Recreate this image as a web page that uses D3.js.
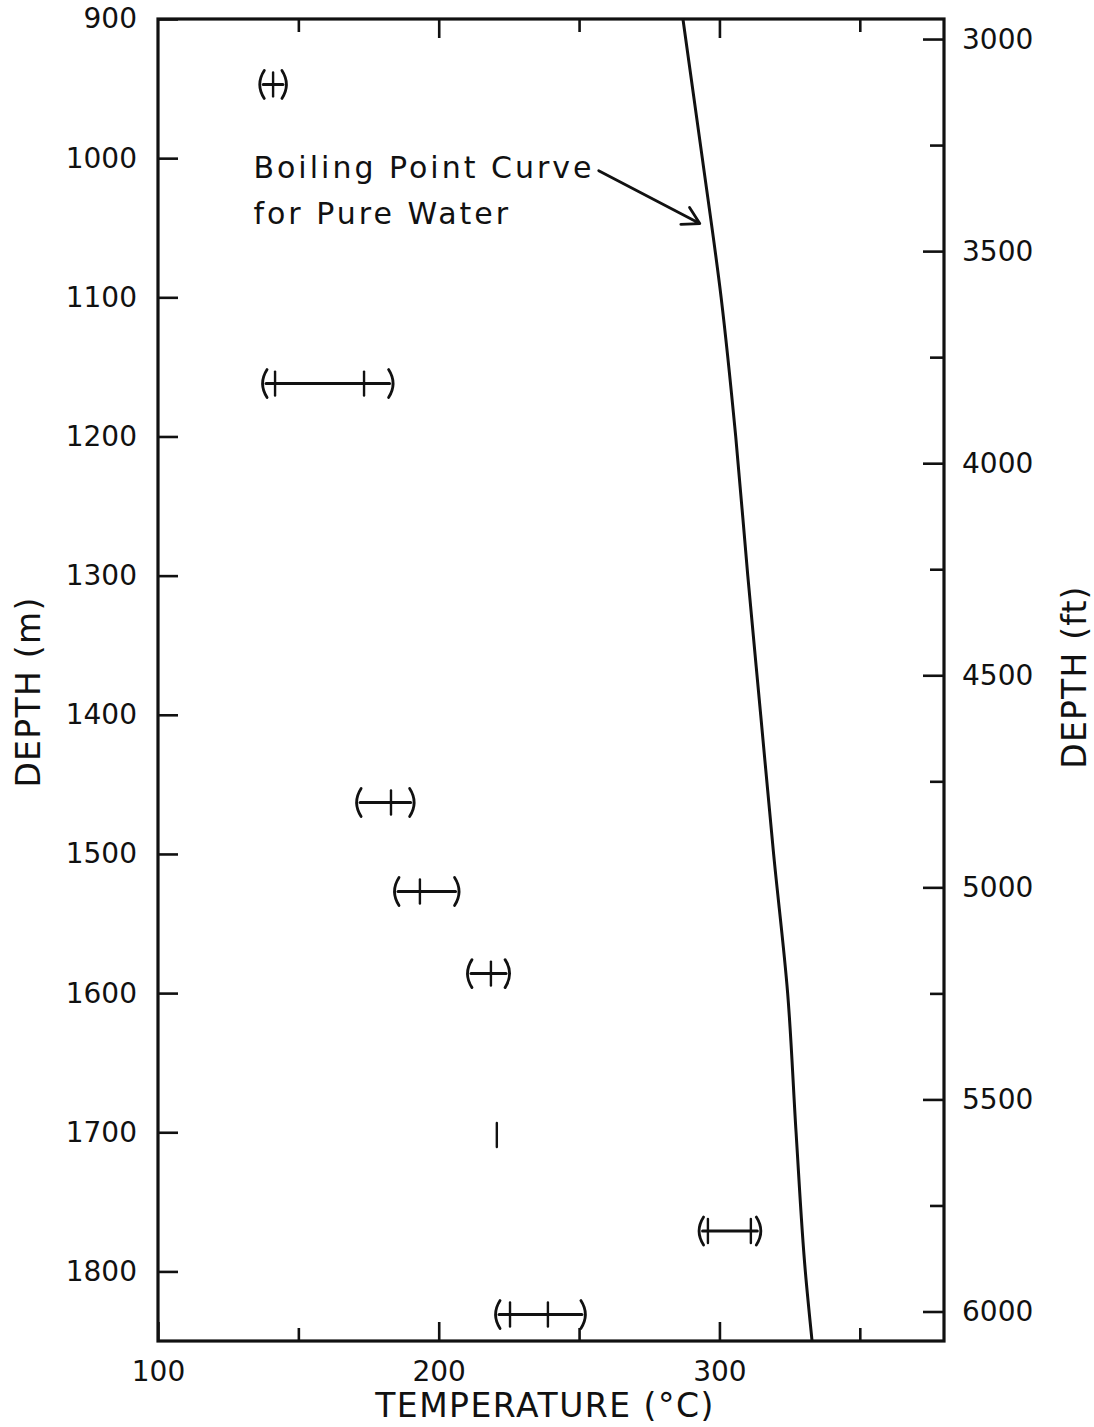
<!DOCTYPE html>
<html>
<head>
<meta charset="utf-8">
<script src="https://cdn.jsdelivr.net/npm/d3@7"></script>
<style>
  html, body { margin: 0; padding: 0; background: #fff; }
  svg { display: block; }
  text { font-family: "DejaVu Sans", sans-serif; fill: #111; }
</style>
</head>
<body>
<svg id="chart" width="1094" height="1427"></svg>
<script>
// Fluid-inclusion temperature ranges by depth
const sampleDepth = [947, 1162, 1463, 1527, 1586, 1702, 1771, 1831];          // m
const rangeLow    = [137.5, 138.5, 172, 185.5, 211.5, null, 294, 221.5];       // °C, "(" bracket
const rangeHigh   = [144.5, 182.5, 190, 206, 224, null, 313.5, 251];           // °C, ")" bracket
const rangeMarks  = [[141], [141.7, 173.4], [183], [193.3], [218.6], [220.7], [295.9, 311.2], [225.4, 238.9]];

// Boiling point curve for pure water
const bpDepth = [900, 1000, 1100, 1200, 1300, 1400, 1500, 1600, 1700, 1800, 1850];
const bpTemp  = [287.0, 293.9, 300.6, 305.8, 310.1, 314.7, 319.3, 324.3, 327.3, 330.6, 333.0];

// Axis ticks
const tempMajor  = [100, 200, 300];
const tempMinor  = [150, 250, 350];
const depthTicks = [900, 1000, 1100, 1200, 1300, 1400, 1500, 1600, 1700, 1800];
const feetMajor  = [3000, 3500, 4000, 4500, 5000, 5500, 6000];
const feetMinor  = [3250, 3750, 4250, 4750, 5250, 5750];

const FT = 0.3048;

const svg = d3.select("#chart");
const frame = { left: 158, right: 944, top: 19, bottom: 1341 };

const x = d3.scaleLinear().domain([100, 380]).range([frame.left, frame.right]);
const y = d3.scaleLinear().domain([900, 1850]).range([frame.top, frame.bottom]);
const yFt = d3.scaleLinear().domain([900 / FT, 1850 / FT]).range([frame.top, frame.bottom]);

const ink = "#111";

// Bottom axis (inward ticks)
const gB = svg.append("g").attr("transform", `translate(0,${frame.bottom})`);
gB.call(d3.axisBottom(x).tickValues(tempMajor).tickSize(-19).tickPadding(20).tickFormat(d3.format("d")));
gB.append("g").call(d3.axisBottom(x).tickValues(tempMinor).tickSize(-13).tickFormat(""));

// Top axis (inward ticks, no labels)
const gT = svg.append("g").attr("transform", `translate(0,${frame.top})`);
gT.append("g").call(d3.axisTop(x).tickValues([200, 300]).tickSize(-19).tickFormat(""));
gT.append("g").call(d3.axisTop(x).tickValues(tempMinor).tickSize(-13).tickFormat(""));

// Left axis (metres)
const gL = svg.append("g").attr("transform", `translate(${frame.left},0)`);
gL.call(d3.axisLeft(y).tickValues(depthTicks).tickSize(-20).tickPadding(21).tickFormat(d3.format("d")));

// Right axis (feet)
const gR = svg.append("g").attr("transform", `translate(${frame.right},0)`);
gR.call(d3.axisRight(yFt).tickValues(feetMajor).tickSize(-21).tickPadding(18).tickFormat(d3.format("d")));
gR.append("g").call(d3.axisRight(yFt).tickValues(feetMinor).tickSize(-14).tickFormat(""));

svg.selectAll(".domain").remove();
svg.selectAll(".tick line").attr("stroke", ink).attr("stroke-width", 2.6);
svg.selectAll(".tick text").style("font-size", "28px").attr("fill", ink);
gB.selectAll(".tick text").attr("dy", "0.71em");

// Frame
svg.append("rect")
  .attr("x", frame.left).attr("y", frame.top)
  .attr("width", frame.right - frame.left).attr("height", frame.bottom - frame.top)
  .attr("fill", "none").attr("stroke", ink).attr("stroke-width", 3.2);

// Axis titles
svg.append("text")
  .attr("transform", `translate(40,${(frame.top + frame.bottom) / 2 + 12}) rotate(-90)`)
  .attr("text-anchor", "middle")
  .style("font-size", "33px").style("letter-spacing", "1.3px")
  .text("DEPTH (m)");

svg.append("text")
  .attr("transform", `translate(1086,${(frame.top + frame.bottom) / 2 - 3}) rotate(-90)`)
  .attr("text-anchor", "middle")
  .style("font-size", "33px").style("letter-spacing", "1.2px")
  .text("DEPTH (ft)");

svg.append("text")
  .attr("x", 545).attr("y", 1417)
  .attr("text-anchor", "middle")
  .style("font-size", "33px").style("letter-spacing", "1.5px")
  .text("TEMPERATURE (°C)");

// Boiling point curve
const bp = bpDepth.map((d, i) => ({ d, t: bpTemp[i] }));
svg.append("path")
  .datum(bp)
  .attr("fill", "none").attr("stroke", ink).attr("stroke-width", 3)
  .attr("stroke-linejoin", "round")
  .attr("d", d3.line().curve(d3.curveMonotoneY).x(p => x(p.t)).y(p => y(p.d)));

// Annotation with arrow
const note = svg.append("text")
  .attr("x", x(134)).attr("y", y(1014))
  .style("font-size", "30px").style("letter-spacing", "3px");
note.append("tspan").attr("x", x(134)).text("Boiling Point Curve");
note.append("tspan").attr("x", x(134)).attr("dy", "1.55em").text("for Pure Water");

const arrowFrom = { t: 257, d: 1009 };
const arrowTo = { t: 293, d: 1047 };
const ax0 = x(arrowFrom.t), ay0 = y(arrowFrom.d), ax1 = x(arrowTo.t), ay1 = y(arrowTo.d);
const ang = Math.atan2(ay1 - ay0, ax1 - ax0);
const headLen = 19, headSpread = 0.52;
svg.append("path")
  .attr("fill", "none").attr("stroke", ink).attr("stroke-width", 2.8)
  .attr("stroke-linecap", "round").attr("stroke-linejoin", "round")
  .attr("d",
    `M${ax0},${ay0} L${ax1},${ay1} ` +
    `M${ax1 - headLen * Math.cos(ang - headSpread)},${ay1 - headLen * Math.sin(ang - headSpread)} ` +
    `L${ax1},${ay1} ` +
    `L${ax1 - headLen * Math.cos(ang + headSpread)},${ay1 - headLen * Math.sin(ang + headSpread)}`);

// Temperature ranges
const samples = sampleDepth.map((d, i) => ({ d, lo: rangeLow[i], hi: rangeHigh[i], marks: rangeMarks[i] }));
const g = svg.append("g").attr("stroke", ink).attr("fill", "none").attr("stroke-linecap", "round");
const ranged = samples.filter(s => s.lo != null);

g.selectAll("line.span").data(ranged).join("line")
  .attr("class", "span")
  .attr("x1", s => x(s.lo)).attr("x2", s => x(s.hi))
  .attr("y1", s => y(s.d)).attr("y2", s => y(s.d))
  .attr("stroke-width", 3);

const parenH = 14, bulge = 8;
g.selectAll("path.lp").data(ranged).join("path")
  .attr("class", "lp").attr("stroke-width", 2.8)
  .attr("d", s => `M${x(s.lo) + 1},${y(s.d) - parenH} Q${x(s.lo) - bulge},${y(s.d)} ${x(s.lo) + 1},${y(s.d) + parenH}`);
g.selectAll("path.rp").data(ranged).join("path")
  .attr("class", "rp").attr("stroke-width", 2.8)
  .attr("d", s => `M${x(s.hi) - 1},${y(s.d) - parenH} Q${x(s.hi) + bulge},${y(s.d)} ${x(s.hi) - 1},${y(s.d) + parenH}`);

const markData = samples.flatMap(s => s.marks.map(t => ({ d: s.d, t })));
g.selectAll("line.mark").data(markData).join("line")
  .attr("class", "mark").attr("stroke-width", 2.4)
  .attr("x1", m => x(m.t)).attr("x2", m => x(m.t))
  .attr("y1", m => y(m.d) - 12).attr("y2", m => y(m.d) + 12);
</script>
</body>
</html>
